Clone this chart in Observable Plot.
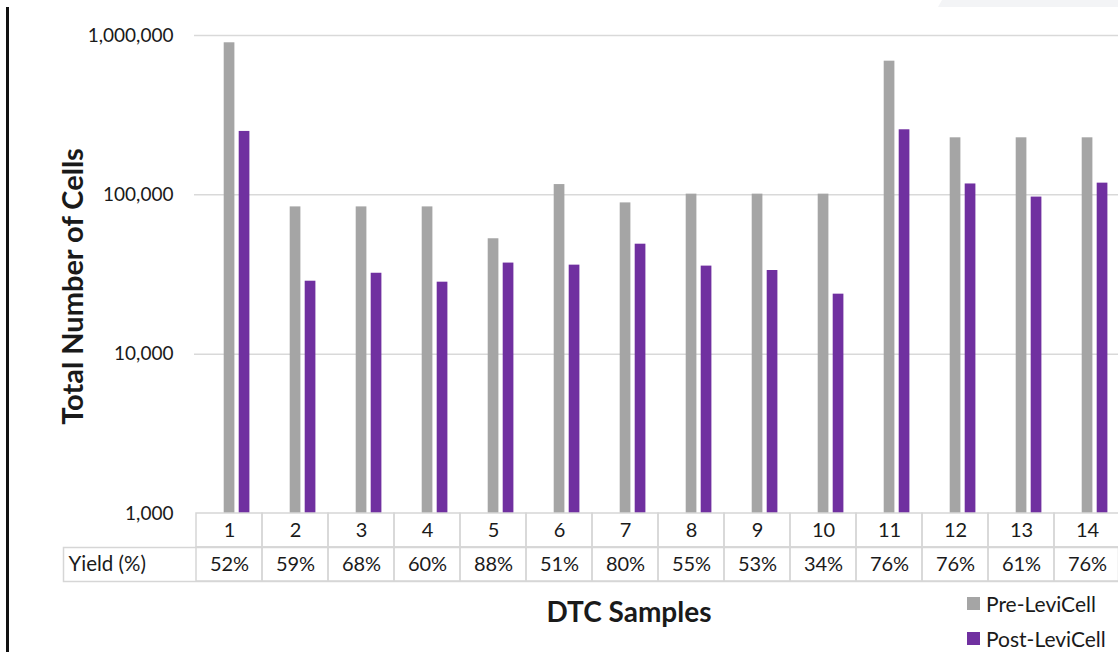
<!DOCTYPE html>
<html>
<head>
<meta charset="utf-8">
<script src="https://cdn.jsdelivr.net/npm/d3@7"></script>
<script src="https://cdn.jsdelivr.net/npm/@observablehq/plot@0.6"></script>
<style>
  body { margin: 0; background: #fff; font-family: Lato, "Open Sans", sans-serif; }
  #wrap { position: relative; width: 1118px; height: 652px; overflow: hidden; background: #fff; }
  #wrap svg { position: absolute; left: 0; top: 0; max-width: none; }
  #edge { position: absolute; left: 6px; top: 7px; width: 2.5px; height: 645px; background: #111; }
  #corner { position: absolute; left: 938px; top: 0; width: 180px; height: 7px; background: #f3f4f6;
            clip-path: polygon(4px 0, 100% 0, 100% 100%, 0 100%); }
  .legend { position: absolute; left: 967px; top: 592px; font-size: 21px; color: #1a1a1a; }
  .legend .item { display: flex; align-items: center; height: 22px; margin-bottom: 13px; }
  .legend .sw { width: 13px; height: 13px; margin-right: 6px; }
</style>
</head>
<body>
<div id="wrap">
  <div id="edge"></div>
  <div id="corner"></div>
</div>
<script>
// DTC samples and total cell counts before / after LeviCell processing
const samples = ["1", "2", "3", "4", "5", "6", "7", "8", "9", "10", "11", "12", "13", "14"];
const preCells = [900000, 84000, 84000, 84000, 53000, 116000, 89000, 101000, 101000, 101000, 690000, 228000, 228000, 228000];
const postCells = [250000, 28700, 32200, 28300, 37300, 36200, 49000, 35700, 33500, 23800, 256000, 117000, 96800, 118400];
const yields = ["52%", "59%", "68%", "60%", "88%", "51%", "80%", "55%", "53%", "34%", "76%", "76%", "61%", "76%"];
const seriesNames = ["Pre-LeviCell", "Post-LeviCell"];
const seriesColors = ["#a5a5a5", "#7030a0"];
const yTicks = [1000, 10000, 100000, 1000000];
const tableRows = ["sample", "yield"];

const rows = samples.map((s, i) => ({sample: s, pre: preCells[i], post: postCells[i], yield: yields[i]}));
const xScale = {type: "band", domain: samples, range: [194, 1121.8], padding: 0, axis: null};
const font = "Lato, 'Open Sans', sans-serif";
const ink = "#1a1a1a";
const lineGray = "#d6d6d6";

const wrap = document.getElementById("wrap");

// Bars on a log scale
const chart = Plot.plot({
  width: 1118, height: 652,
  marginTop: 35, marginBottom: 139, marginLeft: 194, marginRight: 0,
  style: {fontFamily: font, background: "transparent", color: ink},
  x: xScale,
  y: {type: "log", domain: [1000, 1000000]},
  marks: [
    Plot.ruleY(yTicks.slice(1), {stroke: "#d9d9d9", strokeWidth: 1.5}),
    Plot.barY(rows, {x: "sample", y1: 1000, y2: "pre", fill: seriesColors[0], insetLeft: 27.7, insetRight: 27.6}),
    Plot.barY(rows, {x: "sample", y1: 1000, y2: "post", fill: seriesColors[1], insetLeft: 42.7, insetRight: 12.6}),
    Plot.axisY({ticks: yTicks, tickFormat: d3.format(","), tickSize: 0, tickPadding: 21, fontSize: 19, fill: ink, label: null}),
    Plot.text(["Total Number of Cells"], {frameAnchor: "left", textAnchor: "middle", lineAnchor: "middle", rotate: -90, dx: -121, dy: 12, fontSize: 29, fontWeight: "bold", fill: ink})
  ]
});
wrap.appendChild(chart);

// Data table under the bars: sample numbers and yields
const table = Plot.plot({
  width: 1118, height: 652,
  marginTop: 547, marginBottom: 71, marginLeft: 63, marginRight: 0,
  style: {fontFamily: font, background: "transparent", color: ink},
  x: xScale,
  y: {type: "band", domain: tableRows, range: [513, 581], padding: 0, axis: null},
  marks: [
    Plot.frame({stroke: lineGray, strokeWidth: 1.5}),
    Plot.cell(d3.cross(samples, tableRows), {x: d => d[0], y: d => d[1], fill: "none", stroke: lineGray, strokeWidth: 1.5, inset: 0}),
    Plot.text(rows, {x: "sample", y: () => "sample", text: "sample", fontSize: 20, fill: ink}),
    Plot.text(rows, {x: "sample", y: () => "yield", text: "yield", fontSize: 20, fill: ink}),
    Plot.text(["Yield (%)"], {frameAnchor: "left", dx: 5, textAnchor: "start", lineAnchor: "middle", fontSize: 20.5, fill: ink}),
    Plot.text(["DTC Samples"], {frameAnchor: "bottom", textAnchor: "middle", dx: 38, dy: 32, lineAnchor: "middle", fontSize: 28, fontWeight: "bold", fill: ink})
  ]
});
wrap.appendChild(table);

// Legend
const legend = document.createElement("div");
legend.className = "legend";
seriesNames.forEach((name, i) => {
  const item = document.createElement("div");
  item.className = "item";
  const sw = document.createElement("span");
  sw.className = "sw";
  sw.style.background = seriesColors[i];
  item.appendChild(sw);
  item.appendChild(document.createTextNode(name));
  legend.appendChild(item);
});
wrap.appendChild(legend);
</script>
</body>
</html>
